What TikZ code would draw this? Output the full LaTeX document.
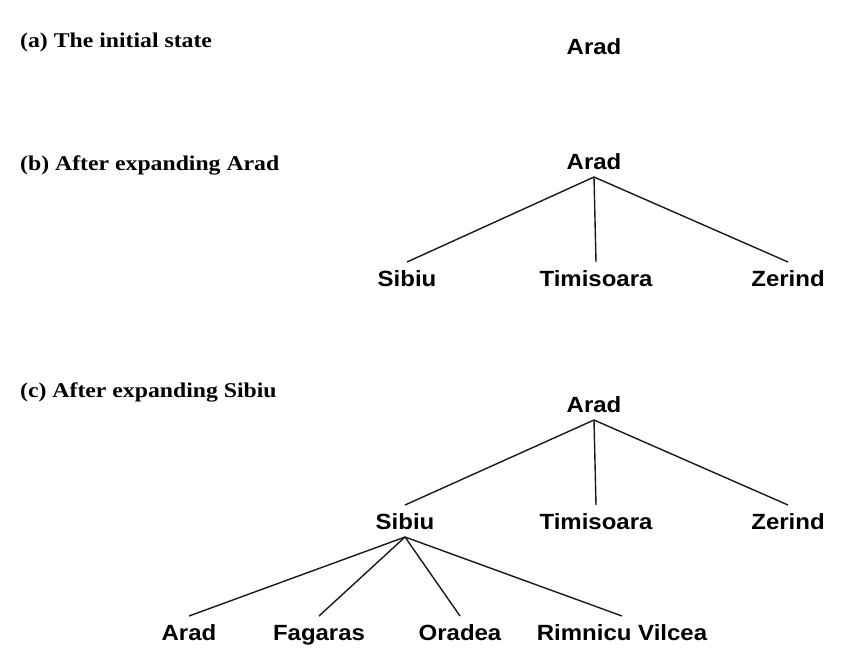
\documentclass[tikz,border=0pt]{standalone}
\usepackage{fontspec}
\setmainfont{Liberation Serif}
\newfontfamily\nodefont{Liberation Sans}
\begin{document}
\begin{tikzpicture}[x=1pt,y=-1pt,
  city/.style={font=\nodefont\bfseries\fontsize{22}{24}\selectfont, xscale=1.09, inner sep=0pt, text height=16pt, text depth=0pt, outer sep=8pt},
  caption/.style={font=\bfseries\fontsize{21}{24}\selectfont, xscale=1.13, anchor=west, inner sep=0pt},
  link/.style={line width=1.4pt, black!90}]
\useasboundingbox (0,0) rectangle (851,670);
% (a)
\node[caption] (ta) at (20,42) {(a) The initial state};
\node[city] (a0) at (594,46) {Arad};
% (b)
\node[caption] (tb) at (20,165) {(b) After expanding Arad};
\node[city] (b0) at (594,161) {Arad};
\node[city] (b1) at (407,278) {Sibiu};
\node[city] (b2) at (596,278) {Timisoara};
\node[city] (b3) at (788,278) {Zerind};
\draw[link] (b0.south) -- (b1.north);
\draw[link] (b0.south) -- (b2.north);
\draw[link] (b0.south) -- (b3.north);
% (c)
\node[caption] (tc) at (20,392) {(c) After expanding Sibiu};
\node[city] (c0) at (594,404) {Arad};
\node[city] (c1) at (405,521) {Sibiu};
\node[city] (c2) at (596,521) {Timisoara};
\node[city] (c3) at (788,521) {Zerind};
\node[city] (d1) at (189,632) {Arad};
\node[city] (d2) at (319,632) {Fagaras};
\node[city] (d3) at (460,632) {Oradea};
\node[city] (d4) at (622,632) {Rimnicu Vilcea};
\draw[link] (c0.south) -- (c1.north);
\draw[link] (c0.south) -- (c2.north);
\draw[link] (c0.south) -- (c3.north);
\draw[link] (c1.south) -- (d1.north);
\draw[link] (c1.south) -- (d2.north);
\draw[link] (c1.south) -- (d3.north);
\draw[link] (c1.south) -- (d4.north);
\end{tikzpicture}
\end{document}
